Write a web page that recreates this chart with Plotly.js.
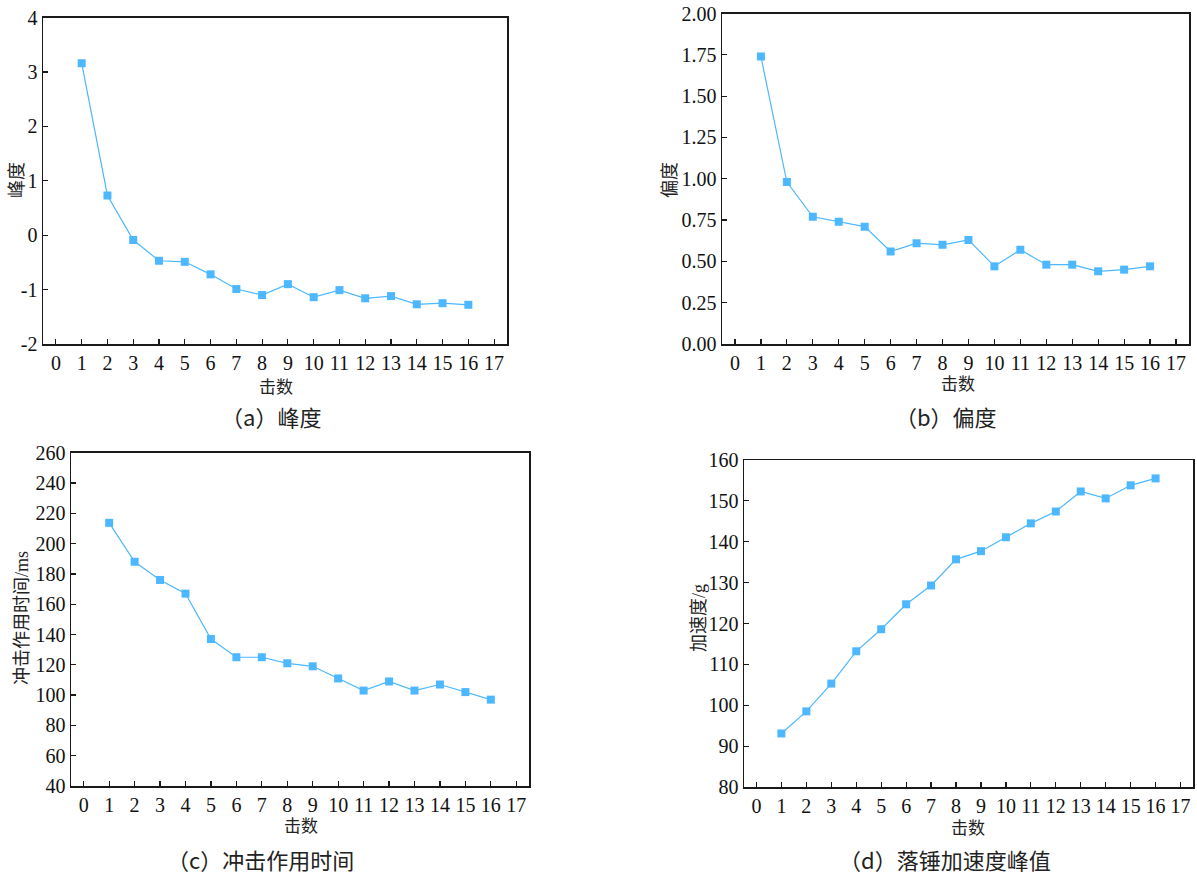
<!DOCTYPE html>
<html>
<head>
<meta charset="utf-8">
<script src="https://cdn.plot.ly/plotly-3.0.1.min.js"></script>
<style>
  html, body { margin: 0; padding: 0; background: #fff; }
  #chart { width: 1197px; height: 878px; }
</style>
</head>
<body>
<div id="chart"></div>
<script>
// Blow count (击数) on every panel
const blows = [1, 2, 3, 4, 5, 6, 7, 8, 9, 10, 11, 12, 13, 14, 15, 16];

// (a) kurtosis
const kurtosis = [3.16, 0.73, -0.09, -0.47, -0.49, -0.72, -0.99, -1.10, -0.90, -1.14, -1.01, -1.16, -1.12, -1.27, -1.25, -1.28];
// (b) skewness
const skewness = [1.74, 0.98, 0.77, 0.74, 0.71, 0.56, 0.61, 0.60, 0.63, 0.47, 0.57, 0.48, 0.48, 0.44, 0.45, 0.47];
// (c) impact duration, ms
const impactTime = [213.7, 188, 176, 167, 137, 125, 125, 121, 119, 111, 103, 109, 103, 107, 102, 97];
// (d) peak hammer acceleration, g
const peakAccel = [93.1, 98.5, 105.3, 113.2, 118.6, 124.7, 129.3, 135.7, 137.7, 141.1, 144.5, 147.4, 152.3, 150.6, 153.8, 155.5];

// Tick labels
const xTicks = [0, 1, 2, 3, 4, 5, 6, 7, 8, 9, 10, 11, 12, 13, 14, 15, 16, 17];
const kurtTickVals = [-2, -1, 0, 1, 2, 3, 4];
const kurtTickText = ['-2', '-1', '0', '1', '2', '3', '4'];

// Text
const xTitle = '击数';
const yTitles = ['峰度', '偏度', '冲击作用时间/ms', '加速度/g'];
const captions = ['（a）峰度', '（b）偏度', '（c）冲击作用时间', '（d）落锤加速度峰值'];

const W = 1197, H = 878;
const lineColor = '#4db8ff';
const axisColor = '#1a1a1a';
const serif = '"Liberation Serif", "Times New Roman", serif';
const cjk = '"Liberation Serif", "Noto Sans CJK SC", serif';
const cjkFirst = '"Noto Sans CJK SC", "Liberation Serif", sans-serif';

// panel boxes in pixels: [left, right, top, bottom]
const boxes = [
  [43, 507, 17.5, 344],
  [722, 1189, 13.5, 344],
  [71, 529, 452.7, 786],
  [744, 1193, 460, 787]
];

function series(y, i) {
  const n = i === 0 ? '' : String(i + 1);
  return {
    x: blows, y: y, xaxis: 'x' + n, yaxis: 'y' + n,
    type: 'scatter', mode: 'lines+markers',
    line: { color: lineColor, width: 1.2 },
    marker: { symbol: 'square', size: 8, color: lineColor },
    showlegend: false, hoverinfo: 'x+y'
  };
}

const data = [kurtosis, skewness, impactTime, peakAccel].map(series);

const tickFont = { family: serif, size: 20, color: '#111' };

function xAxis(b, anchor) {
  return {
    domain: [b[0] / W, b[1] / W], anchor: anchor,
    range: [-0.5, 17.5], tickmode: 'array', tickvals: xTicks,
    ticks: 'inside', ticklen: 5, tickwidth: 1.2, tickcolor: axisColor,
    showline: true, linecolor: axisColor, linewidth: 1.5, mirror: true,
    showgrid: false, zeroline: false,
    tickfont: tickFont
  };
}
function yAxis(b, anchor, extra) {
  return Object.assign({
    domain: [1 - b[3] / H, 1 - b[2] / H], anchor: anchor,
    ticks: 'inside', ticklen: 5, tickwidth: 1.2, tickcolor: axisColor,
    showline: true, linecolor: axisColor, linewidth: 1.5, mirror: true,
    showgrid: false, zeroline: false,
    tickfont: tickFont
  }, extra);
}

const layout = {
  width: W, height: H,
  margin: { l: 0, r: 0, t: 0, b: 0 },
  paper_bgcolor: '#fff', plot_bgcolor: '#fff',
  showlegend: false,
  font: { family: serif },
  xaxis: xAxis(boxes[0], 'y'),
  yaxis: yAxis(boxes[0], 'x', { range: [-2, 4], tickmode: 'array', tickvals: kurtTickVals, ticktext: kurtTickText }),
  xaxis2: xAxis(boxes[1], 'y2'),
  yaxis2: yAxis(boxes[1], 'x2', { range: [0, 2], tick0: 0, dtick: 0.25, tickformat: '.2f' }),
  xaxis3: xAxis(boxes[2], 'y3'),
  yaxis3: yAxis(boxes[2], 'x3', { range: [40, 260], tick0: 40, dtick: 20 }),
  xaxis4: xAxis(boxes[3], 'y4'),
  yaxis4: yAxis(boxes[3], 'x4', { range: [80, 160], tick0: 80, dtick: 10 }),
  annotations: []
};

// label positions in pixels
const xTitlePos = [[276, 387], [958, 384], [301, 826], [968, 828]];
const yTitlePos = [[17, 180], [670, 180], [22, 618], [699, 618]];
const capPos = [[271, 416], [946, 416], [260, 859], [945, 859]];

function ann(text, p, size, angle, fam) {
  return {
    text: text, xref: 'paper', yref: 'paper',
    x: p[0] / W, y: 1 - p[1] / H, xanchor: 'center', yanchor: 'middle',
    showarrow: false, textangle: angle || 0,
    font: { family: fam || cjk, size: size, color: '#222' }
  };
}

for (let i = 0; i < 4; i++) {
  layout.annotations.push(ann(xTitle, xTitlePos[i], 17));
  layout.annotations.push(ann(yTitles[i], yTitlePos[i], 18, -90));
  layout.annotations.push(ann(captions[i], capPos[i], 22, 0, cjkFirst));
}

Plotly.newPlot('chart', data, layout, { displayModeBar: false, staticPlot: true });
</script>
</body>
</html>
